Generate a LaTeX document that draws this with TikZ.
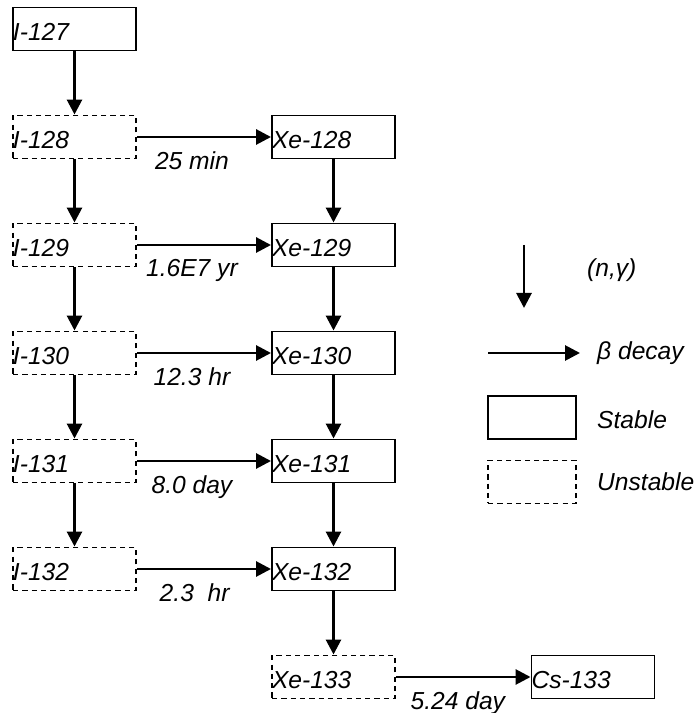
\documentclass[tikz,border=0pt]{standalone}
\usepackage{fontspec}
\setmainfont{Liberation Sans}
\usetikzlibrary{arrows.meta, positioning}

\begin{document}
\begin{tikzpicture}[
    stable/.style={rectangle, minimum width=2.46cm, minimum height=0.86cm, text width=2.46cm, text height=0.48cm, inner xsep=0pt, align=left, draw=black, line width=1.1pt, font=\fontsize{14}{16}\selectfont\itshape},
    unstable/.style={stable, dash pattern=on 3pt off 2.3pt},
    arrow/.style={-{Triangle[length=0.3cm, width=0.3cm]}, line width=1.6pt},
    rate/.style={below=4pt, font=\fontsize{14}{16}\selectfont\itshape},
    legend/.style={anchor=west, font=\fontsize{14}{16}\selectfont\itshape}
]
    \useasboundingbox (0,0) rectangle (13.88,14.26);

    % Iodine chain
    \node[stable] (i127) at (1.49, 13.68) {I-127};
    \node[unstable] (i128) at (1.49, 11.52) {I-128};
    \node[unstable] (i129) at (1.49, 9.36) {I-129};
    \node[unstable] (i130) at (1.49, 7.20) {I-130};
    \node[unstable] (i131) at (1.49, 5.04) {I-131};
    \node[unstable] (i132) at (1.49, 2.88) {I-132};

    % Xenon chain
    \node[stable] (xe128) at (6.67, 11.52) {Xe-128};
    \node[stable] (xe129) at (6.67, 9.36) {Xe-129};
    \node[stable] (xe130) at (6.67, 7.20) {Xe-130};
    \node[stable] (xe131) at (6.67, 5.04) {Xe-131};
    \node[stable] (xe132) at (6.67, 2.88) {Xe-132};
    \node[unstable] (xe133) at (6.67, 0.72) {Xe-133};
    \node[stable] (cs133) at (11.86, 0.72) {Cs-133};

    % Neutron capture
    \draw[arrow] (i127) -- (i128);
    \draw[arrow] (i128) -- (i129);
    \draw[arrow] (i129) -- (i130);
    \draw[arrow] (i130) -- (i131);
    \draw[arrow] (i131) -- (i132);
    \draw[arrow] (xe128) -- (xe129);
    \draw[arrow] (xe129) -- (xe130);
    \draw[arrow] (xe130) -- (xe131);
    \draw[arrow] (xe131) -- (xe132);
    \draw[arrow] (xe132) -- (xe133);

    % Beta decay
    \draw[arrow] (i128) -- node[rate, pos=0.41] {25 min} (xe128);
    \draw[arrow] (i129) -- node[rate, pos=0.41] {1.6E7 yr} (xe129);
    \draw[arrow] (i130) -- node[rate, pos=0.41] {12.3 hr} (xe130);
    \draw[arrow] (i131) -- node[rate, pos=0.41] {8.0 day} (xe131);
    \draw[arrow] (i132) -- node[rate, pos=0.43] {2.3\ \ hr} (xe132);
    \draw[arrow] (xe133) -- node[rate, pos=0.46] {5.24 day} (cs133);

    % Legend
    \coordinate (ngtop) at (10.48, 9.36);
    \coordinate (ngbot) at (10.48, 8.10);
    \draw[arrow] (ngtop) -- (ngbot);
    \node[legend] (nglabel) at (11.62, 8.86) {(n,γ)};

    \coordinate (betastart) at (9.76, 7.20);
    \coordinate (betaend) at (11.60, 7.20);
    \draw[arrow] (betastart) -- (betaend);
    \node[legend] (betalabel) at (11.82, 7.20) {β decay};

    \node[stable, minimum width=1.76cm, text width=1.76cm] (keystable) at (10.64, 5.91) {};
    \node[legend] (stablelabel) at (11.82, 5.86) {Stable};

    \node[unstable, minimum width=1.76cm, text width=1.76cm] (keyunstable) at (10.64, 4.62) {};
    \node[legend] (unstablelabel) at (11.82, 4.62) {Unstable};

\end{tikzpicture}
\end{document}
